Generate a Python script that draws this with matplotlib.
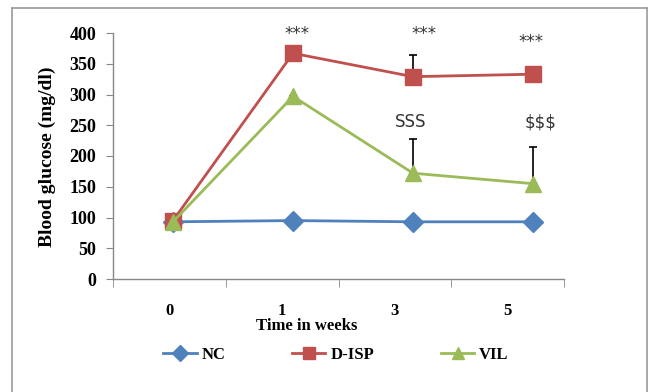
import matplotlib
matplotlib.use("Agg")
import matplotlib.pyplot as plt
import numpy as np
from matplotlib.lines import Line2D

# ---- data ----
weeks = ["0", "1", "3", "5"]
nc = [93, 95, 93, 93]
disp = [95, 367, 329, 333]
vil = [93, 297, 172, 155]
disp_err = [0, 0, 36, 0]
vil_err = [0, 0, 56, 60]
yticks = [0, 50, 100, 150, 200, 250, 300, 350, 400]

ann_text = ["***", "***", "***", "SSS", "$$$"]
ann_idx = [1.03, 2.09, 2.98, 1.98, 3.06]
ann_y = [398, 398, 385, 255, 255]

serif = ["Liberation Serif", "DejaVu Serif"]

fig = plt.figure(figsize=(6.55, 3.92), dpi=100)
ax = fig.add_axes([113/655, 1-279/392, (564-113)/655, (279-33)/392])

x = np.arange(len(weeks))
c_nc, c_d, c_v = "#4F81BD", "#C0504D", "#9BBB59"

ax.errorbar(x, disp, yerr=[np.zeros(4), disp_err], fmt="none", ecolor="black",
            elinewidth=1.2, capsize=3, capthick=1.2, zorder=2)
ax.errorbar(x, vil, yerr=[np.zeros(4), vil_err], fmt="none", ecolor="black",
            elinewidth=1.2, capsize=3, capthick=1.2, zorder=2)

ax.plot(x, nc, color=c_nc, lw=2, marker="D", ms=10, zorder=3)
ax.plot(x, disp, color=c_d, lw=2, marker="s", ms=11, zorder=4)
ax.plot(x, vil, color=c_v, lw=2, marker="^", ms=12, zorder=5)

xmin, xmax = -0.5, 3.258
ax.set_xlim(xmin, xmax)
ax.set_ylim(0, 400)
band = (xmax - xmin) / len(weeks)
centers = xmin + band * (np.arange(len(weeks)) + 0.5)
bounds = xmin + band * np.arange(len(weeks) + 1)
ax.set_xticks(centers)
ax.set_xticklabels(weeks, fontfamily=serif, fontweight="bold", fontsize=12)
ax.set_xticks(bounds, minor=True)
ax.tick_params(axis="x", which="major", length=0, pad=17)
ax.tick_params(axis="x", which="minor", length=6, color="#888888", direction="out")

ax.set_yticks(yticks)
ax.set_yticklabels([str(v) for v in yticks], fontfamily=serif, fontweight="bold", fontsize=13)
ax.tick_params(axis="y", length=5, color="#888888", direction="out", pad=7)

for s in ["top", "right"]:
    ax.spines[s].set_visible(False)
for s in ["left", "bottom"]:
    ax.spines[s].set_color("#888888")
    ax.spines[s].set_linewidth(1.0)

for t, xi, yi in zip(ann_text, ann_idx, ann_y):
    ax.text(xi, yi, t, ha="center", va="center", fontsize=12,
            family="DejaVu Sans", color="#333333", zorder=6)

fig.text(307/655, 1-326/392, "Time in weeks", ha="center", va="center",
         fontfamily=serif, fontweight="bold", fontsize=12)
fig.text(47/655, 1-157/392, "Blood glucose (mg/dl)", ha="center", va="center",
         rotation=90, fontfamily=serif, fontweight="bold", fontsize=14)

handles = [Line2D([], [], color=c_nc, lw=2, marker="D", ms=8),
           Line2D([], [], color=c_d, lw=2, marker="s", ms=8),
           Line2D([], [], color=c_v, lw=2, marker="^", ms=9)]
fig.legend(handles, ["NC", "D-ISP", "VIL"], ncol=3, loc="center",
           bbox_to_anchor=(336/655, 1-355/392), frameon=False,
           prop={"family": serif, "weight": "bold", "size": 12},
           handlelength=2.0, handletextpad=0.3, columnspacing=4.0)

# outer frame
kw = dict(color="#999999", lw=1.2, transform=fig.transFigure, clip_on=False)
fig.add_artist(Line2D([12/655, 12/655], [0, 1-8/392], **kw))
fig.add_artist(Line2D([12/655, 647/655], [1-8/392, 1-8/392], **kw))
fig.add_artist(Line2D([647/655, 647/655], [0, 1-8/392], **kw))

fig.savefig("out.png", dpi=100)
